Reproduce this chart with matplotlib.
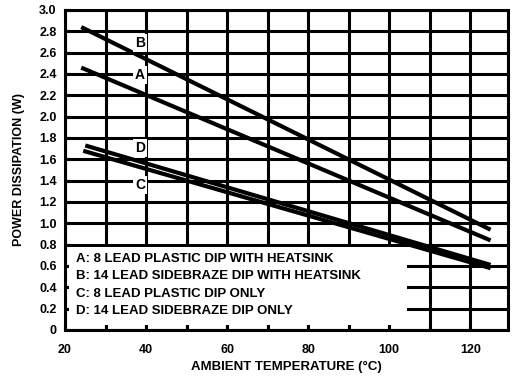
import matplotlib
matplotlib.use("Agg")
import matplotlib.pyplot as plt
import numpy as np
from matplotlib.patches import Rectangle

plt.rcParams["font.family"] = ["Liberation Sans", "DejaVu Sans"]
plt.rcParams["font.weight"] = "bold"

# curvas de derating (temperatura ambiente en C, potencia en W)
a_temp = [24, 125]
a_power = [2.46, 0.84]
b_temp = [24, 125]
b_power = [2.84, 0.94]
c_temp = [24.5, 125]
c_power = [1.68, 0.58]
d_temp = [25, 125]
d_power = [1.73, 0.61]

# letras que identifican cada curva
letras = ["B", "A", "D", "C"]
letras_y = [2.69, 2.39, 1.71, 1.36]

leyenda = [
    "A: 8 LEAD PLASTIC DIP WITH HEATSINK",
    "B: 14 LEAD SIDEBRAZE DIP WITH HEATSINK",
    "C: 8 LEAD PLASTIC DIP ONLY",
    "D: 14 LEAD SIDEBRAZE DIP ONLY",
]

x_ticks = [20, 40, 60, 80, 100, 120]
y_ticks = np.round(np.arange(0, 3.01, 0.2), 1)
y_labels = ["0"] + [f"{v:.1f}" for v in y_ticks[1:]]

fig = plt.figure(figsize=(5.12, 3.81), dpi=100)
ax = fig.add_axes([65 / 512, 51 / 381, 443 / 512, 320 / 381])
ax.set_xlim(20, 129.3)
ax.set_ylim(0, 3.0)

ax.set_xticks(x_ticks)
ax.set_xticks(np.arange(30, 130, 10), minor=True)
ax.set_yticks(y_ticks)
ax.set_yticklabels(y_labels)
ax.grid(True, which="both", color="black", linewidth=2.2)
ax.set_axisbelow(True)

# recuadro blanco para la leyenda (deja ver las marcas de los ejes)
ax.add_patch(Rectangle((20.9, 0.045), 104.5 - 20.9, 0.8 - 0.045 - 0.025,
                       facecolor="white", edgecolor="none", zorder=1))

ax.plot(a_temp, a_power, color="black", lw=3.0, solid_capstyle="butt", zorder=3)
ax.plot(b_temp, b_power, color="black", lw=3.0, solid_capstyle="butt", zorder=3)
ax.plot(c_temp, c_power, color="black", lw=3.0, solid_capstyle="butt", zorder=3)
ax.plot(d_temp, d_power, color="black", lw=3.0, solid_capstyle="butt", zorder=3)

for letra, ly in zip(letras, letras_y):
    ax.text(38.5, ly, letra, ha="center", va="center", fontsize=10, fontweight="bold",
            bbox=dict(boxstyle="square,pad=0.15", facecolor="white", edgecolor="none"), zorder=4)

for i, texto in enumerate(leyenda):
    ax.text(22.7, 0.67 - i * 0.165, texto, ha="left", va="center", fontsize=9.5,
            fontweight="bold", zorder=4)

ax.tick_params(axis="both", which="both", direction="in", width=1.5, labelsize=9)
ax.tick_params(axis="x", which="major", length=4, pad=10)
ax.tick_params(axis="x", which="minor", length=4)
ax.tick_params(axis="y", length=4, pad=6)
for lab in ax.get_xticklabels() + ax.get_yticklabels():
    lab.set_fontweight("bold")

for sp in ax.spines.values():
    sp.set_linewidth(2.2)

ax.set_xlabel("AMBIENT TEMPERATURE (°C)", fontsize=9.5, fontweight="bold", labelpad=4)
ax.set_ylabel("POWER DISSIPATION (W)", fontsize=9, fontweight="bold", labelpad=10)

fig.savefig("out.png", dpi=100)
